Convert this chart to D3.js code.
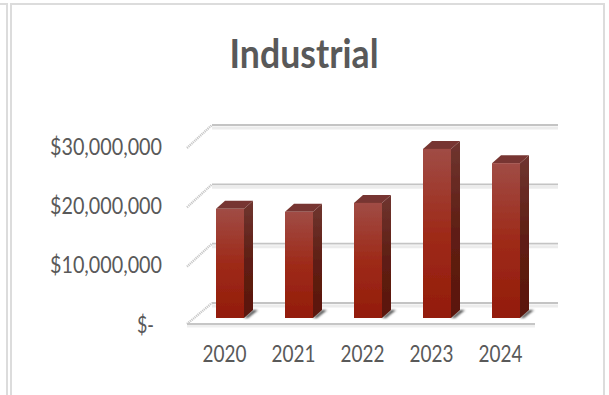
<!DOCTYPE html>
<html>
<head>
<meta charset="utf-8">
<script src="https://cdn.jsdelivr.net/npm/d3@7/dist/d3.min.js"></script>
<style>
html,body{margin:0;padding:0;background:#fff;}
svg{display:block;}
text{font-family:Lato,"Open Sans",sans-serif;fill:#595959;}
</style>
</head>
<body>
<svg id="chart" width="609" height="395"></svg>
<script>
const years = ["2020", "2021", "2022", "2023", "2024"];
const values = [18400000, 17900000, 19400000, 28500000, 26100000];
const gridValues = [0, 10000000, 20000000, 30000000];
const chartTitle = "Industrial";

const svg = d3.select("#chart");
const defs = svg.append("defs");

const x = d3.scalePoint().domain(years).range([230, 506]);
const y = d3.scaleLinear().domain([0, 30000000]).range([318, 140]);
const barW = 28;
const barDepth = { dx: 9, dy: -8 };
const wallDepth = { dx: 25, dy: -15 };

// Panel frame
const frame = svg.append("g").attr("fill", "none").attr("stroke", "#dcdcdc").attr("stroke-width", 2);
frame.append("path").attr("d", "M0,4H7V395");
frame.append("path").attr("d", "M11,395V4H604V395");

const grad = defs.append("linearGradient").attr("id", "barFront")
  .attr("x1", 0).attr("x2", 0).attr("y1", 0).attr("y2", 1);
[[0, "#a04c45"], [0.5, "#9e2a19"], [1, "#931c0a"]].forEach(([o, c]) =>
  grad.append("stop").attr("offset", o).attr("stop-color", c));

const sideGrad = defs.append("linearGradient").attr("id", "barSide")
  .attr("x1", 0).attr("x2", 0).attr("y1", 0).attr("y2", 1);
[[0, "#6f3530"], [0.5, "#5f1f14"], [1, "#5a150a"]].forEach(([o, c]) =>
  sideGrad.append("stop").attr("offset", o).attr("stop-color", c));

const soft = defs.append("filter").attr("id", "soft")
  .attr("x", "-20%").attr("y", "-20%").attr("width", "140%").attr("height", "140%");
soft.append("feGaussianBlur").attr("stdDeviation", 0.5);
const softer = defs.append("filter").attr("id", "softer")
  .attr("x", "-40%").attr("y", "-40%").attr("width", "180%").attr("height", "180%");
softer.append("feGaussianBlur").attr("stdDeviation", 1);

// Back wall gridlines with a pale shadow underneath
const grid = svg.append("g").attr("filter", "url(#soft)");
const gridLeft = 187 + wallDepth.dx, gridRight = 558;
const backY = d => y(d) + wallDepth.dy;
grid.selectAll("line.shade").data(gridValues).join("line").attr("class", "shade")
  .attr("x1", gridLeft).attr("x2", gridRight)
  .attr("y1", d => backY(d) + 3).attr("y2", d => backY(d) + 3)
  .attr("stroke", "#ececec").attr("stroke-width", 3);
grid.selectAll("line.major").data(gridValues).join("line").attr("class", "major")
  .attr("x1", gridLeft).attr("x2", gridRight)
  .attr("y1", backY).attr("y2", backY)
  .attr("stroke", "#c4c4c4").attr("stroke-width", 1.8);

// Side wall ticks and the front edge of the floor
grid.selectAll("line.wall").data(gridValues).join("line").attr("class", "wall")
  .attr("x1", 187).attr("x2", gridLeft)
  .attr("y1", d => backY(d) + (d === 0 ? 21 : 23)).attr("y2", backY)
  .attr("stroke", "#c8c8c8").attr("stroke-width", 2.4).attr("stroke-dasharray", "1.2 0.8");
grid.append("line").attr("x1", 187).attr("x2", 535)
  .attr("y1", y(0) + 8).attr("y2", y(0) + 8).attr("stroke", "#efefef").attr("stroke-width", 3);
grid.append("line").attr("x1", 187).attr("x2", 535)
  .attr("y1", y(0) + 6).attr("y2", y(0) + 6).attr("stroke", "#c6c6c6").attr("stroke-width", 1.8);

// Bars: floor shadow, side face, top face, front face
const bars = svg.append("g").selectAll("g").data(years.map((yr, i) => ({ yr, v: values[i] }))).join("g")
  .attr("filter", "url(#soft)");
const left = d => x(d.yr) - barW / 2;
const right = d => x(d.yr) + barW / 2;

bars.append("path")
  .attr("d", d => `M${right(d)},${y(0)}L${right(d) + barDepth.dx},${y(0) + barDepth.dy}H${right(d) + barDepth.dx + 5}L${right(d) + 4},${y(0)}Z`)
  .attr("fill", "#555").attr("filter", "url(#softer)");
bars.append("path")
  .attr("d", d => `M${right(d)},${y(d.v)}L${right(d) + barDepth.dx},${y(d.v) + barDepth.dy}V${y(0) + barDepth.dy}L${right(d)},${y(0)}Z`)
  .attr("fill", "url(#barSide)");
bars.append("path")
  .attr("d", d => `M${left(d)},${y(d.v)}L${left(d) + barDepth.dx},${y(d.v) + barDepth.dy}H${right(d) + barDepth.dx}L${right(d)},${y(d.v)}Z`)
  .attr("fill", "#773630");
bars.append("rect")
  .attr("x", left).attr("y", d => y(d.v))
  .attr("width", barW).attr("height", d => y(0) - y(d.v))
  .attr("fill", "url(#barFront)");

// Axes: tall narrow numerals fitted to a fixed run length
const xAxis = svg.append("g").attr("transform", "translate(-6,354)")
  .call(d3.axisBottom(x).tickSize(0).tickPadding(0));
xAxis.select(".domain").remove();
xAxis.selectAll("text").attr("dy", "0.35em").attr("y", 0)
  .attr("textLength", 44).attr("lengthAdjust", "spacingAndGlyphs")
  .style("font-size", "23px").style("font-family", "Lato").style("fill", "#595959");

const dollars = d3.format("$,");
const yAxis = svg.append("g").attr("transform", "translate(162,6)")
  .call(d3.axisLeft(y).tickValues(gridValues).tickSize(0).tickPadding(0)
    .tickFormat(d => d === 0 ? "$-" : dollars(d)));
yAxis.select(".domain").remove();
yAxis.selectAll("text")
  .attr("x", d => d === 0 ? -8 : 0)
  .attr("dy", "0.35em")
  .attr("textLength", d => d === 0 ? 17 : 112).attr("lengthAdjust", "spacingAndGlyphs")
  .style("font-size", "23px").style("font-family", "Lato").style("fill", "#595959");

svg.append("text").attr("x", 304).attr("y", 68).attr("text-anchor", "middle")
  .attr("textLength", 149).attr("lengthAdjust", "spacingAndGlyphs")
  .style("font-size", "41px").style("font-weight", 700).style("fill", "#595959")
  .text(chartTitle);
</script>
</body>
</html>
